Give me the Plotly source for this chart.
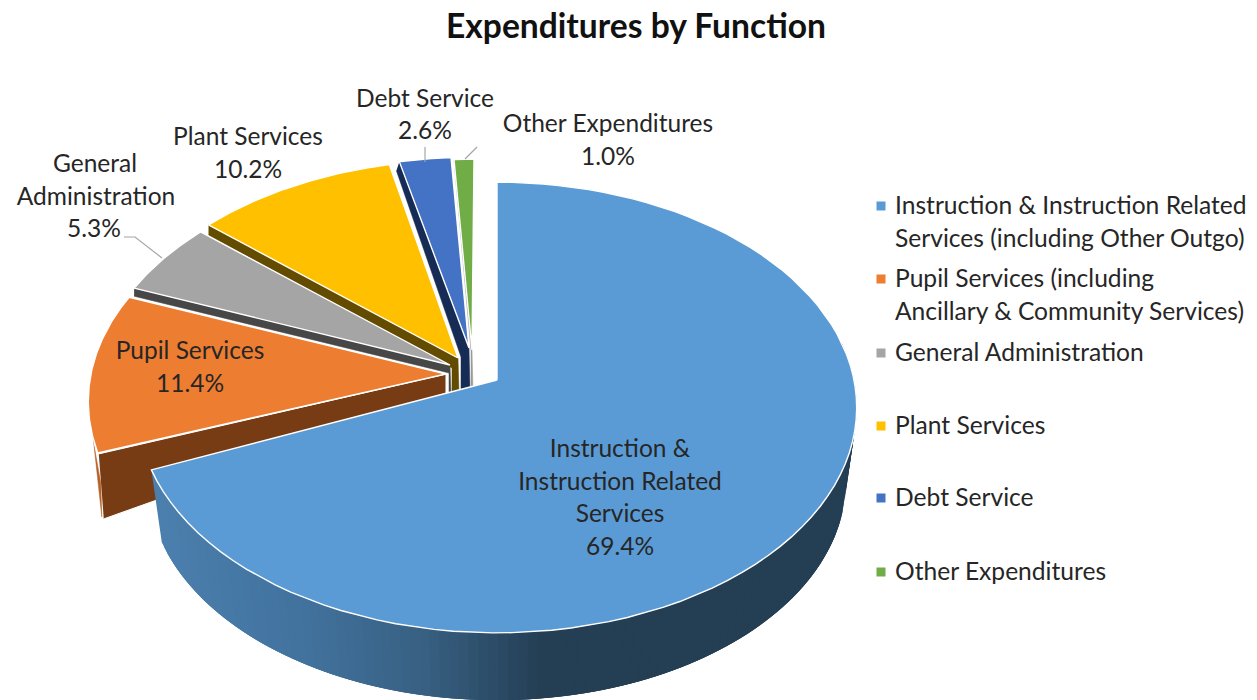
import numpy as np
import plotly.graph_objects as go

# ---- data ----
categories = ["Instruction & Instruction Related Services", "Pupil Services", "General Administration",
              "Plant Services", "Debt Service", "Other Expenditures"]
values = [69.4, 11.4, 5.3, 10.2, 2.6, 1.0]
legend_lines = [["Instruction & Instruction Related", "Services (including Other Outgo)"],
                ["Pupil Services (including", "Ancillary & Community Services)"],
                ["General Administration"], ["Plant Services"], ["Debt Service"], ["Other Expenditures"]]
title_text = "Expenditures by Function"

# ---- style / geometry ----
colors = ["#5b9bd5", "#ed7d31", "#a5a5a5", "#ffc000", "#4472c4", "#70ad47"]
wall_colors = [None, "#773c14", "#474747", "#634b00", "#172c55", "#9a9a9a"]
centers = [(497, 380), (448, 374), (453, 365), (461, 358), (471, 355), (474, 357)]
tips = [(497, 380), (446, 374), (450, 365), (458, 358), (469, 348), (472, 350)]
end_trim = [-2.8, 0, 0, 0, 0, 0]
wall_band = [0, 0, 8, 10, 9, 1]
wall_width = [0, 0, 2, 7, 9, 2]
wall_dx = [0, 0, 0, 0, 3, 0]
wall_bottom = [0, 397, 395, 393, 390, 390]
RX, RY, K = 357, 222, 0.122
FONT = "Lato"
TXT = "#262626"
GRID = "#a6a6a6"
DY = 1.5

fig = go.Figure()


def rim(i, deg):
    t = np.radians(deg)
    d = 1 + K * np.cos(t)
    return centers[i][0] + RX * np.sin(t) / d, centers[i][1] - RY * np.cos(t) / d


def poly(xs, ys, fill, line="white", lw=1.4):
    fig.add_trace(go.Scatter(x=list(xs), y=list(ys), mode="lines", fill="toself", fillcolor=fill,
                             line=dict(color=line, width=lw), hoverinfo="skip", showlegend=False))


cum = np.cumsum([0] + values) / sum(values) * 360
start = cum[:-1].copy()
end = cum[1:].copy()
end = end + np.array(end_trim)

# walls of small slices
for i in [2, 3, 4, 5]:
    ax, ay = tips[i]
    cx0, cy0 = rim(i, start[i])
    b, w, dx = wall_band[i], wall_width[i], wall_dx[i]
    xs = [cx0, ax, ax + 1, ax + 1 - w, ax + 1 - w, cx0 - dx]
    ys = [cy0, ay, wall_bottom[i], wall_bottom[i], ay + b, cy0 + b]
    poly(xs, ys, wall_colors[i], line=wall_colors[i], lw=0.5)

# orange wall + sliver
cx0, cy0 = rim(1, start[1])
ax, ay = tips[1]
poly([cx0 + 1, ax, ax, cx0 + 6], [cy0 + 1, ay, wall_bottom[1], cy0 + 66], wall_colors[1], line="white", lw=1)
sx, sy = rim(1, start[1] + 3.5)
poly([sx, sx + 4, cx0 + 4, cx0 + 3, sx + 1], [sy, sy + 34, cy0 + 64, cy0 + 30, sy + 8], "#b5622a", line="#b5622a", lw=0.5)

# blue outer wall, drawn as shaded overlapping strips
S = 0.97
H = 75


def low(deg):
    x, y = rim(0, deg)
    return centers[0][0] + S * (x - centers[0][0]), centers[0][1] + H + S * (y - centers[0][1])


def shade(x):
    stops_x = [150, 300, 420, 540, 860]
    stops = [(76, 128, 174), (66, 114, 158), (56, 96, 130), (36, 62, 84), (36, 62, 84)]
    return "rgb(%d,%d,%d)" % tuple(np.interp(x, stops_x, [s[k] for s in stops]) for k in range(3))


grid = np.linspace(end[0], 80, 120)
for j in range(len(grid) - 1):
    a = grid[j]
    b = grid[min(j + 3, len(grid) - 1)]
    ts = np.linspace(a, b, 6)
    top = [rim(0, t) for t in ts]
    bot = [low(t) for t in ts[::-1]]
    xs = [p[0] for p in top + bot]
    ys = [p[1] for p in top + bot]
    mx, _ = rim(0, a)
    col = shade(mx)
    poly(xs, ys, col, line="rgba(0,0,0,0)", lw=0)

# top faces
for i in range(6):
    ts = np.linspace(start[i], end[i], 90)
    pts = [rim(i, t) for t in ts]
    xs = [tips[i][0]] + [p[0] for p in pts] + [tips[i][0]]
    ys = [tips[i][1]] + [p[1] for p in pts] + [tips[i][1]]
    poly(xs, ys, colors[i])

# leader lines
leaders = [([425, 425], [147, 162]), ([477, 465], [147, 159]), ([124, 135, 162], [237, 237, 258])]
for lx, ly in leaders:
    fig.add_trace(go.Scatter(x=lx, y=ly, mode="lines", line=dict(color=GRID, width=1.2),
                             hoverinfo="skip", showlegend=False))

# data labels
label_text = ["Instruction &", "Instruction Related", "Services", "69.4%", "Pupil Services", "11.4%",
              "General", "Administration", "5.3%", "Plant Services", "10.2%", "Debt Service", "2.6%",
              "Other Expenditures", "1.0%"]
label_x = [620, 620, 620, 620, 190, 190, 95, 96, 94, 248, 248, 425, 425, 608, 608]
label_y = [449, 482, 514, 547, 351, 384, 164, 197, 229, 137, 170, 99, 131, 124, 157]
fig.add_trace(go.Scatter(x=label_x, y=[v + DY for v in label_y], mode="text", text=label_text,
                         textposition="middle center",
                         textfont=dict(family=FONT, size=24.5, color=TXT), hoverinfo="skip", showlegend=False))

# legend
legend_y = [206, 279, 353, 426, 498, 572]
line_gap = 33
fig.add_trace(go.Scatter(x=[881] * 6, y=legend_y, mode="markers",
                         marker=dict(symbol="square", size=9, color=colors, line=dict(width=0)),
                         hoverinfo="skip", showlegend=False))
tx, ty, tt = [], [], []
for y, lines in zip(legend_y, legend_lines):
    for j, s in enumerate(lines):
        tx.append(895); ty.append(y + j * line_gap + DY); tt.append(s)
fig.add_trace(go.Scatter(x=tx, y=ty, mode="text", text=tt, textposition="middle right",
                         textfont=dict(family=FONT, size=24.6, color=TXT), hoverinfo="skip", showlegend=False))

fig.update_layout(
    width=1257, height=700, margin=dict(l=0, r=0, t=0, b=0),
    paper_bgcolor="white", plot_bgcolor="white", showlegend=False,
    title=dict(text="<b>%s</b>" % title_text, x=636 / 1257, y=1 - 26 / 700, xanchor="center", yanchor="middle",
               font=dict(family=FONT, size=33.6, color="#111111")),
    xaxis=dict(range=[0, 1257], visible=False, fixedrange=True),
    yaxis=dict(range=[700, 0], visible=False, fixedrange=True),
)
fig.write_html("out.html", post_script="document.body.style.margin='0';",
               config=dict(displayModeBar=False))
